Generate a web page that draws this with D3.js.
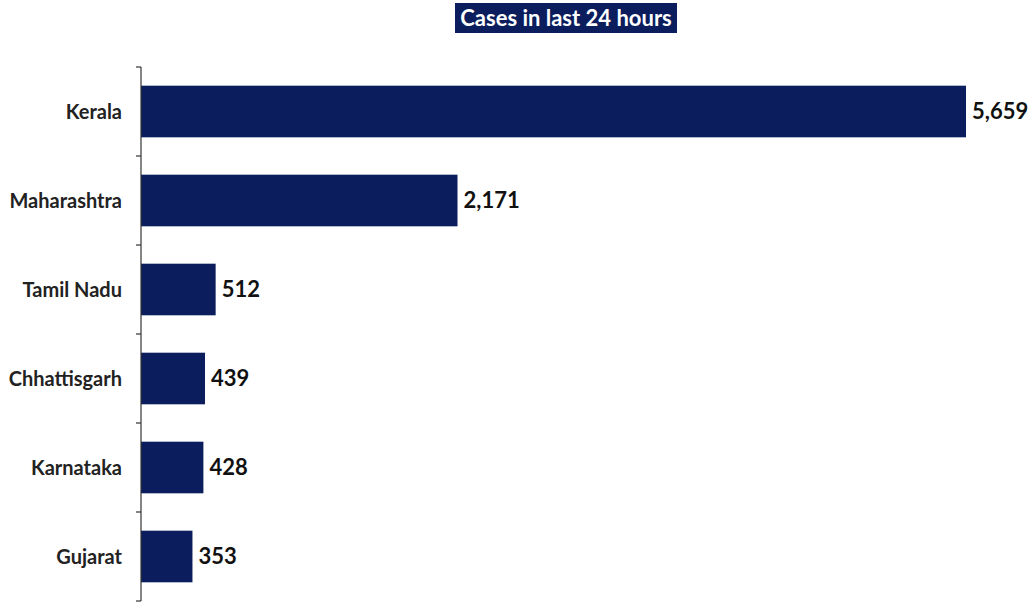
<!DOCTYPE html>
<html><head><meta charset="utf-8">
<script src="https://cdn.jsdelivr.net/npm/d3@7"></script>
<style>body{margin:0;background:#fff;} svg{display:block;}</style>
</head><body>
<svg id="c" width="1031" height="604"></svg>
<script>
const categories = ["Kerala","Maharashtra","Tamil Nadu","Chhattisgarh","Karnataka","Gujarat"];
const values = [5659, 2171, 512, 439, 428, 353];
const title = "Cases in last 24 hours";

const svg = d3.select("#c");
const navy = "#0b1d5c";
const font = "Lato, sans-serif";
const x = d3.scaleLinear().domain([0, 6000]).range([141, 141 + 6000 * 825 / 5659]);
const y = d3.scaleBand().domain(categories).range([67, 601]).paddingInner(0.42).paddingOuter(0.21);

// title
const tg = svg.append("g");
tg.append("rect").attr("x", 455).attr("y", 3).attr("width", 222).attr("height", 30).attr("fill", navy);
tg.append("text").attr("x", 566).attr("y", 26).attr("text-anchor", "middle")
  .attr("font-family", font).attr("font-weight", "bold").attr("font-size", 22)
  .attr("fill", "#fff").text(title);

// bars
svg.append("g").selectAll("rect").data(values).join("rect")
  .attr("x", x(0)).attr("y", (d, i) => y(categories[i]))
  .attr("width", d => x(d) - x(0)).attr("height", y.bandwidth()).attr("fill", navy);

// value labels
const fmt = d3.format(",");
svg.append("g").selectAll("text").data(values).join("text")
  .attr("x", d => x(d) + 6).attr("y", (d, i) => y(categories[i]) + y.bandwidth() / 2)
  .attr("dy", "0.35em").attr("font-family", font).attr("font-weight", "bold")
  .attr("font-size", 22).attr("fill", "#111").text(d => fmt(d));

// axis line and ticks at band boundaries
const bounds = d3.range(categories.length + 1).map(i => 67 + i * (534 / categories.length));
const ax = svg.append("g").attr("stroke", "#333").attr("stroke-width", 1.2);
ax.append("line").attr("x1", 141).attr("x2", 141).attr("y1", 67).attr("y2", 601);
ax.selectAll("line.t").data(bounds).join("line").attr("class", "t")
  .attr("x1", 136).attr("x2", 141).attr("y1", d => d).attr("y2", d => d);

// category labels
svg.append("g").selectAll("text").data(categories).join("text")
  .attr("x", 122).attr("y", d => y(d) + y.bandwidth() / 2).attr("dy", "0.35em")
  .attr("text-anchor", "end").attr("font-family", font).attr("font-weight", "bold")
  .attr("font-size", 20).attr("fill", "#222").text(d => d);
</script>
</body></html>
